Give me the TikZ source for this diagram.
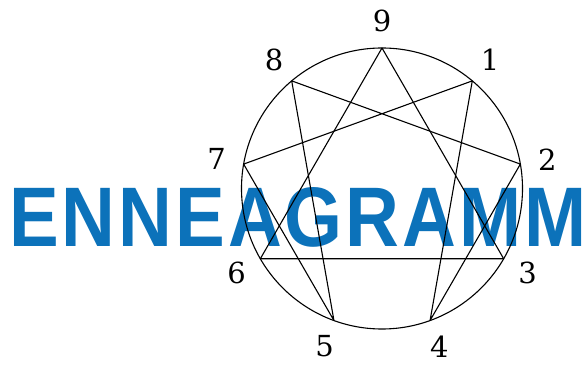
\documentclass[tikz,border=0pt]{standalone}
\usepackage{graphicx}
\usepackage{fontspec}
\setmainfont{DejaVu Serif}
\newfontfamily\lsans[LetterSpace=4]{Liberation Sans}
\definecolor{ennblue}{RGB}{12,114,186}
\begin{document}
\begin{tikzpicture}[x=1pt,y=1pt,
  edge/.style={line width=1.1pt, line join=round},
  lbl/.style={font=\fontsize{29}{29}\selectfont, inner sep=0pt}]
\useasboundingbox (0,0) rectangle (587,367);
\node[anchor=base west, inner sep=0pt, text=ennblue] (title) at (9,120)
  {\resizebox{577pt}{59pt}{\lsans\bfseries ENNEAGRAMM}};
\coordinate (c) at (382,178.5);
\draw[edge] (c) circle (140.5);
\foreach \n/\a in {9/90,1/50,2/10,3/-30,4/-70,5/-110,6/-150,7/170,8/130} {
  \coordinate (p\n) at ([shift={(\a:140.5)}]c);
  \node[lbl] (l\n) at ([shift={(\a:168)}]c) {\n};
}
\draw[edge] (p9) -- (p3) -- (p6) -- cycle;
\draw[edge] (p1) -- (p4) -- (p2) -- (p8) -- (p5) -- (p7) -- cycle;
\end{tikzpicture}
\end{document}
